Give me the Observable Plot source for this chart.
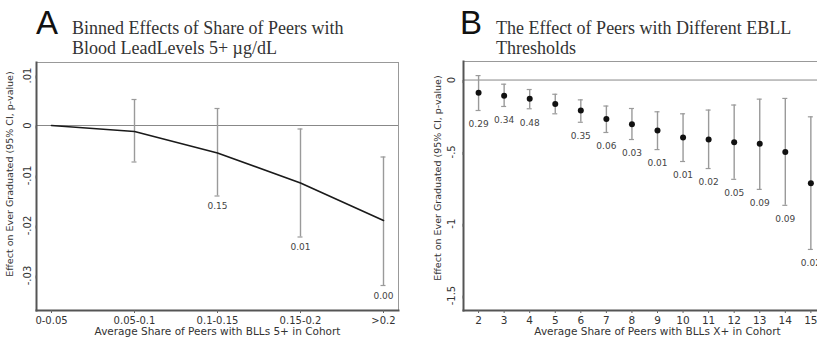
<!DOCTYPE html>
<html><head><meta charset="utf-8">
<script src="https://cdn.jsdelivr.net/npm/d3@7"></script>
<script src="https://cdn.jsdelivr.net/npm/@observablehq/plot@0.6"></script>
<style>
html,body{margin:0;padding:0;background:#fff;}
#root{position:relative;width:817px;height:342px;overflow:hidden;background:#fff;}
.letter{position:absolute;font-family:"Liberation Sans",Arial,sans-serif;font-size:33px;color:#111;line-height:1;}
.title{position:absolute;font-family:"Liberation Serif",serif;font-size:18px;line-height:20px;color:#333;white-space:nowrap;}
#root svg{position:absolute;}
</style></head>
<body><div id="root">
<div class="letter" style="left:36px;top:6px;">A</div>
<div class="title" style="left:72px;top:18px;">Binned Effects of Share of Peers with<br>Blood LeadLevels 5+ µg/dL</div>
<div class="letter" style="left:460px;top:6px;">B</div>
<div class="title" style="left:496px;top:18px;">The Effect of Peers with Different EBLL<br>Thresholds</div>
</div>
<script>
// Panel A data
const binsA = ["0-0.05","0.05-0.1","0.1-0.15","0.15-0.2",">0.2"];
const estA = [0, -0.0012, -0.0055, -0.0115, -0.019];
const loA = [null, -0.0073, -0.0141, -0.0223, -0.032];
const hiA = [null, 0.0052, 0.0034, -0.0007, -0.0063];
const pA = ["", "", "0.15", "0.01", "0.00"];
const yTicksA = [0.01, 0, -0.01, -0.02, -0.03];
const yTickLabelsA = [".01","0","-.01","-.02","-.03"];
const xTitleA = "Average Share of Peers with BLLs 5+ in Cohort";

// Panel B data
const threshB = [2,3,4,5,6,7,8,9,10,11,12,13,14,15];
const estB = [-0.089,-0.110,-0.131,-0.166,-0.212,-0.272,-0.307,-0.351,-0.400,-0.414,-0.433,-0.444,-0.500,-0.719];
const loB  = [-0.212,-0.184,-0.200,-0.235,-0.294,-0.365,-0.414,-0.484,-0.567,-0.616,-0.691,-0.761,-0.872,-1.179];
const hiB  = [0.031,-0.029,-0.066,-0.099,-0.138,-0.181,-0.198,-0.221,-0.235,-0.209,-0.174,-0.133,-0.128,-0.256];
const pB = ["0.29","0.34","0.48","","0.35","0.06","0.03","0.01","0.01","0.02","0.05","0.09","0.09","0.02"];
const yTicksB = [0, -0.5, -1, -1.5];
const yTickLabelsB = ["0","-.5","-1","-1.5"];
const xTitleB = "Average Share of Peers with BLLs X+ in Cohort";

const yTitle = "Effect on Ever Graduated (95% CI, p-value)";

const rowsA = binsA.map((b,i)=>({bin:b, est:estA[i], lo:loA[i], hi:hiA[i], p:pA[i]}));
const ciA = rowsA.filter(d=>d.lo!=null);
const rowsB = threshB.map((t,i)=>({t, est:estB[i], lo:loB[i], hi:hiB[i], p:pB[i]}));

const style = {fontFamily:"DejaVu Sans", fontSize:"10px", color:"#333", background:"transparent", overflow:"visible"};
const ciColor = "#9a9a9a";

const A = Plot.plot({
  width:410, height:286,
  marginTop:6, marginBottom:32, marginLeft:36, marginRight:12,
  style,
  x:{type:"point", domain:binsA, padding:0.18},
  y:{domain:[-0.037, 0.0126]},
  marks:[
    Plot.frame({stroke:"#999", strokeWidth:1}),
    Plot.ruleY([0], {stroke:"#888", strokeWidth:1}),
    Plot.ruleX(ciA, {x:"bin", y1:"lo", y2:"hi", stroke:ciColor, strokeWidth:1.4}),
    Plot.ruleY(ciA, {x1:"bin", x2:"bin", y:"lo", insetLeft:-2.5, insetRight:-2.5, stroke:ciColor, strokeWidth:1.2}),
    Plot.ruleY(ciA, {x1:"bin", x2:"bin", y:"hi", insetLeft:-2.5, insetRight:-2.5, stroke:ciColor, strokeWidth:1.2}),
    Plot.line(rowsA, {x:"bin", y:"est", stroke:"#1a1a1a", strokeWidth:1.6}),
    Plot.text(ciA, {x:"bin", y:"lo", text:"p", dy:10.5, fill:"#444", fontSize:9}),
    Plot.frame({anchor:"left", stroke:"#555", strokeWidth:2}),
    Plot.frame({anchor:"bottom", stroke:"#555", strokeWidth:2}),
    Plot.axisX({tickSize:3, tickPadding:3, label:null, color:"#333", stroke:"#666"}),
    Plot.axisY({ticks:yTicksA, tickFormat:d=>yTickLabelsA[yTicksA.indexOf(d)], rotate:-90, textAnchor:"middle", tickSize:3, tickPadding:6, label:null, color:"#333", stroke:"#666"}),
    Plot.text([xTitleA], {frameAnchor:"bottom", lineAnchor:"middle", dy:21, fill:"#333", fontSize:10.5}),
    Plot.text([yTitle], {frameAnchor:"left", textAnchor:"middle", lineAnchor:"middle", dx:-27, dy:-12.5, rotate:-90, fill:"#333", fontSize:9.5})
  ]
});
A.style.left = "0px"; A.style.top = "56px";
document.getElementById("root").appendChild(A);

const B = Plot.plot({
  width:451, height:286,
  marginTop:5, marginBottom:32, marginLeft:53, marginRight:10,
  style,
  x:{domain:[1.41, 16.59]},
  y:{domain:[-1.604, 0.129]},
  marks:[
    Plot.frame({stroke:"#999", strokeWidth:1}),
    Plot.ruleY([0], {stroke:"#888", strokeWidth:1}),
    Plot.ruleX(rowsB, {x:"t", y1:"lo", y2:"hi", stroke:ciColor, strokeWidth:1.4}),
    Plot.ruleY(rowsB, {x1:"t", x2:"t", y:"lo", insetLeft:-2.5, insetRight:-2.5, stroke:ciColor, strokeWidth:1.2}),
    Plot.ruleY(rowsB, {x1:"t", x2:"t", y:"hi", insetLeft:-2.5, insetRight:-2.5, stroke:ciColor, strokeWidth:1.2}),
    Plot.dot(rowsB, {x:"t", y:"est", r:3, fill:"#111", stroke:"none"}),
    Plot.text(rowsB, {x:"t", y:"lo", text:"p", dy:14, fill:"#444", fontSize:9}),
    Plot.frame({anchor:"left", stroke:"#555", strokeWidth:2}),
    Plot.frame({anchor:"bottom", stroke:"#555", strokeWidth:2}),
    Plot.axisX({ticks:threshB, tickFormat:d=>String(d), tickSize:3, tickPadding:3, label:null, color:"#333", stroke:"#666", fontSize:10.5}),
    Plot.axisY({ticks:yTicksB, tickFormat:d=>yTickLabelsB[yTicksB.indexOf(d)], rotate:-90, textAnchor:"middle", tickSize:3, tickPadding:9, label:null, color:"#333", stroke:"#666"}),
    Plot.text([xTitleB], {frameAnchor:"bottom", lineAnchor:"middle", dy:21, fill:"#333", fontSize:10.5}),
    Plot.text([yTitle], {frameAnchor:"left", textAnchor:"middle", lineAnchor:"middle", dx:-25.5, dy:-8, rotate:-90, fill:"#333", fontSize:9.5})
  ]
});
B.style.left = "410px"; B.style.top = "56px";
document.getElementById("root").appendChild(B);
</script>
</body></html>
